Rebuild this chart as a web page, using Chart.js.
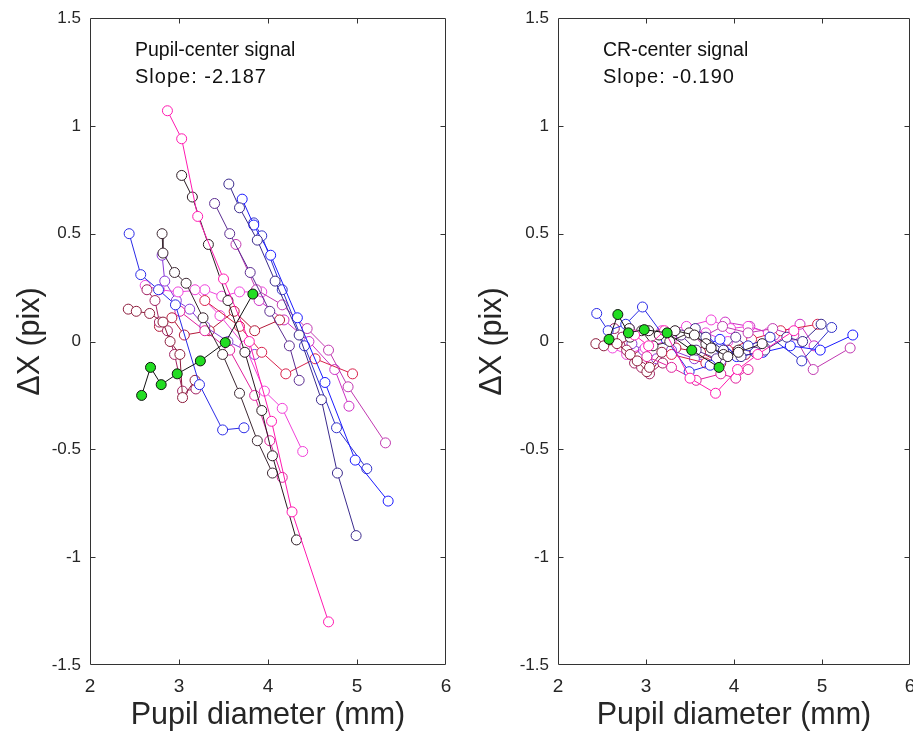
<!DOCTYPE html>
<html><head><meta charset="utf-8">
<script src="https://cdn.jsdelivr.net/npm/chart.js@4"></script>
<style>
html,body{margin:0;padding:0;background:#fff;overflow:hidden;width:913px;height:731px;}
canvas{position:absolute;top:0;}
</style></head><body>
<canvas id="c1" width="456" height="731" style="left:0;width:456px;height:731px"></canvas>
<canvas id="c2" width="460" height="731" style="left:456px;width:460px;height:731px"></canvas>
<script>
// ---- data (pupil diameter in mm, ΔX in pix) ----
const diamG = [2.58,2.68,2.80,2.98,3.24,3.52,3.83];
const pupilG = [-0.25,-0.12,-0.20,-0.15,-0.09,-0.005,0.22];
const crG = [0.01,0.125,0.04,0.055,0.04,-0.04,-0.12];

const diam01 = [2.87,3.03,3.21,3.50,3.79,4.04,4.27,4.68];
const pupil01 = [1.07,0.94,0.58,0.29,0.00,-0.37,-0.79,-1.30];
const cr01 = [0.03,-0.02,0.05,-0.17,-0.24,-0.13,-0.06,0.05];

const diam02 = [3.03,3.15,3.33,3.55,3.74,3.93,4.05,4.32];
const pupil02 = [0.77,0.67,0.45,0.19,-0.05,-0.32,-0.53,-0.92];
const cr02 = [0.05,0.03,0.05,0.03,-0.03,-0.07,-0.05,-0.01];

const diam03 = [2.81,2.82,2.95,3.08,3.27,3.49,3.68,3.88,4.05];
const pupil03 = [0.50,0.41,0.32,0.27,0.11,-0.06,-0.24,-0.46,-0.61];
const cr03 = [0.06,0.02,0.05,-0.02,0.00,0.04,-0.01,-0.06,-0.04];

const diam04 = [3.56,3.68,3.88,4.08,4.35,4.60,4.78,4.99];
const pupil04 = [0.73,0.62,0.47,0.28,0.03,-0.27,-0.61,-0.90];
const cr04 = [0.06,0.02,-0.04,-0.07,-0.04,0.02,0.00,0.08];

const diam05 = [3.71,3.84,4.03,4.33,4.64,4.98,5.35];
const pupil05 = [0.66,0.54,0.40,0.11,-0.19,-0.55,-0.74];
const cr05 = [-0.01,0.01,-0.07,-0.05,-0.02,-0.04,0.03];

const diam06 = [3.84,3.93,4.16,4.41,4.77,5.11];
const pupil06 = [0.55,0.49,0.24,-0.02,-0.40,-0.59];
const cr06 = [-0.03,-0.06,-0.02,0.02,-0.09,0.065];

const diam07 = [2.44,2.57,2.77,2.96,3.23,3.49,3.73];
const pupil07 = [0.50,0.31,0.24,0.17,-0.20,-0.41,-0.40];
const cr07 = [0.13,0.05,0.08,0.16,0.01,-0.14,-0.11];

const diam08 = [3.40,3.57,3.80,4.02,4.24,4.35];
const pupil08 = [0.64,0.50,0.32,0.14,-0.02,-0.18];
const cr08 = [0.03,-0.04,-0.08,0.02,-0.05,-0.03];

const diam09 = [3.64,3.87,4.16,4.44,4.68,4.90,5.32];
const pupil09 = [0.45,0.24,0.17,0.06,-0.04,-0.21,-0.47];
const cr09 = [0.02,0.07,0.04,0.06,0.03,-0.13,-0.03];

const diam10 = [3.29,3.68,3.93,4.20,4.53,4.95];
const pupil10 = [0.19,0.07,-0.05,-0.15,-0.08,-0.15];
const cr10 = [-0.06,-0.10,-0.04,0.01,0.05,0.08];

const diam11 = [3.18,3.46,3.74,3.96,4.16,4.39];
const pupil11 = [0.24,0.12,-0.02,-0.23,-0.31,-0.51];
const cr11 = [0.05,0.07,0.10,0.06,0.07,0.04];

const diam12 = [3.01,3.29,3.57,3.85,4.02,4.16];
const pupil12 = [0.14,0.05,-0.04,-0.25,-0.46,-0.63];
const cr12 = [-0.07,-0.12,-0.18,-0.15,-0.17,-0.13];

const diam13 = [2.43,2.52,2.67,2.82,2.90,3.01,3.04,3.18];
const pupil13 = [0.15,0.14,0.13,0.09,0.00,-0.06,-0.26,-0.18];
const cr13 = [-0.01,-0.02,-0.01,-0.06,-0.09,-0.14,-0.12,-0.05];

const diam14 = [2.64,2.73,2.78,2.87,2.95,3.04,3.19];
const pupil14 = [0.24,0.19,0.09,0.05,-0.06,-0.23,-0.22];
const cr14 = [0.06,0.02,-0.04,-0.10,-0.12,-0.15,-0.10];

const diam15 = [2.62,2.78,2.99,3.29,3.48,3.68,3.93];
const pupil15 = [0.26,0.24,0.23,0.24,0.21,0.23,0.23];
const cr15 = [-0.03,-0.06,-0.03,0.01,0.06,0.04,0.00];

const diam16 = [2.81,2.84,2.97,3.12,3.29,3.55,3.85];
const pupil16 = [0.40,0.28,0.19,0.15,0.07,0.00,-0.06];
const cr16 = [0.06,-0.01,-0.04,-0.08,-0.04,-0.08,-0.09];

const diam17 = [2.78,2.92,3.06,3.34,3.62,3.85,4.13];
const pupil17 = [0.07,0.11,0.03,0.05,0.14,0.05,0.10];
const cr17 = [-0.02,-0.07,-0.10,-0.03,-0.05,-0.10,-0.06];

const diam18 = [3.90,4.18,4.46,4.75,4.91];
const pupil18 = [0.19,0.10,0.00,-0.13,-0.30];
const cr18 = [0.09,0.07,0.03,0.08,-0.02];

const xTicks = [2,3,4,5,6];
const yTicks = [-1.5,-1,-0.5,0,0.5,1,1.5];
const leftNote = ['Pupil-center signal','Slope: -2.187'];
const rightNote = ['CR-center signal','Slope: -0.190'];
const xTitle = 'Pupil diameter (mm)';
const yTitle = 'ΔX (pix)';

// ---- styling (kept separate from data) ----
const series = [
  {x:diamG, pc:pupilG, cr:crG},
  {x:diam01, pc:pupil01, cr:cr01},
  {x:diam02, pc:pupil02, cr:cr02},
  {x:diam03, pc:pupil03, cr:cr03},
  {x:diam04, pc:pupil04, cr:cr04},
  {x:diam05, pc:pupil05, cr:cr05},
  {x:diam06, pc:pupil06, cr:cr06},
  {x:diam07, pc:pupil07, cr:cr07},
  {x:diam08, pc:pupil08, cr:cr08},
  {x:diam09, pc:pupil09, cr:cr09},
  {x:diam10, pc:pupil10, cr:cr10},
  {x:diam11, pc:pupil11, cr:cr11},
  {x:diam12, pc:pupil12, cr:cr12},
  {x:diam13, pc:pupil13, cr:cr13},
  {x:diam14, pc:pupil14, cr:cr14},
  {x:diam15, pc:pupil15, cr:cr15},
  {x:diam16, pc:pupil16, cr:cr16},
  {x:diam17, pc:pupil17, cr:cr17},
  {x:diam18, pc:pupil18, cr:cr18}
];
const lineColors = ['#111111','#ff1ab0','#2a1a22','#3c2832','#3a2a8c','#1a1aff','#3030c8','#2a2ae6','#5a2c90',
  '#c038b0','#d8204a','#f040d8','#e0209c','#8c1c3c','#a02060','#ee44dd','#8838d8','#b41838','#cc30c4'];
const fillColors = ['#22dd22'];

const FONT = "'Liberation Sans', Helvetica, Arial, sans-serif";
const AXIS = '#333333';
const TXT = '#262626';

const boxPlugin = {
  id:'boxTicks',
  afterDatasetsDraw(chart){
    const {ctx, chartArea:a, scales:{x,y}} = chart;
    ctx.save();
    ctx.strokeStyle = AXIS; ctx.lineWidth = 1;
    const L = Math.round(a.left)+0.5, R = Math.round(a.right)-0.5, T = Math.round(a.top)+0.5, B = Math.round(a.bottom)-0.5;
    ctx.beginPath();
    ctx.rect(L, T, R-L, B-T);
    const tl = 5;
    xTicks.forEach(v=>{ const p = Math.round(x.getPixelForValue(v))+0.5; if(p>L+1&&p<R-1){ctx.moveTo(p,B);ctx.lineTo(p,B-tl);ctx.moveTo(p,T);ctx.lineTo(p,T+tl);} });
    yTicks.forEach(v=>{ const p = Math.round(y.getPixelForValue(v))+0.5; if(p>T+1&&p<B-1){ctx.moveTo(L,p);ctx.lineTo(L+tl,p);ctx.moveTo(R,p);ctx.lineTo(R-tl,p);} });
    ctx.stroke();
    const note = chart.options.plugins.boxTicks.note;
    ctx.fillStyle = '#111'; ctx.textBaseline='alphabetic'; ctx.textAlign='left';
    ctx.font = '19.5px '+FONT;
    ctx.fillText(note[0], a.left+45, a.top+38);
    ctx.font = '20px '+FONT;
    try { ctx.letterSpacing = '1px'; } catch(e) {}
    ctx.fillText(note[1], a.left+45, a.top+65);
    ctx.restore();
  }
};

function makeChart(id, key, yAxisWidth, padRight, titlePad, note){
  const datasets = series.map((s,i)=>({
    data: s.x.map((v,j)=>({x:v, y:s[key][j]})),
    showLine:true,
    borderColor: lineColors[i],
    borderWidth: 1,
    pointRadius: 5,
    pointBorderWidth: 1,
    pointBorderColor: lineColors[i],
    pointBackgroundColor: fillColors[i] || '#ffffff',
    backgroundColor: fillColors[i] || '#ffffff',
    tension: 0,
    fill: false
  }));
  return new Chart(document.getElementById(id), {
    type:'scatter',
    data:{datasets},
    options:{
      responsive:false, animation:false, devicePixelRatio:1, events:[],
      layout:{padding:{left:0, right:padRight, top:18, bottom:0}},
      plugins:{legend:{display:false}, tooltip:{enabled:false}, boxTicks:{note}},
      scales:{
        x:{type:'linear', min:2, max:6,
           afterBuildTicks(s){ s.ticks = xTicks.map(v=>({value:v})); },
           afterFit(s){ s.height = 66; s.paddingLeft = 0; s.paddingRight = 0; },
           grid:{display:false, drawTicks:false}, border:{display:false},
           ticks:{padding:10, color:TXT, font:{family:FONT, size:19}, maxRotation:0, autoSkip:false,
                  callback:v=>String(v)},
           title:{display:true, text:xTitle, color:TXT, font:{family:FONT, size:30.5, lineHeight:1}, padding:{top:0,bottom:0}}
        },
        y:{type:'linear', min:-1.5, max:1.5,
           afterBuildTicks(s){ s.ticks = yTicks.map(v=>({value:v})); },
           afterFit(s){ s.width = yAxisWidth; s.paddingTop = 0; s.paddingBottom = 0; },
           grid:{display:false, drawTicks:false}, border:{display:false},
           ticks:{padding:9, color:TXT, font:{family:FONT, size:17}, autoSkip:false,
                  callback:v=>String(v)},
           title:{display:true, text:yTitle, color:TXT, font:{family:FONT, size:30.5, lineHeight:1}, padding:{top:titlePad,bottom:0}}
        }
      }
    },
    plugins:[boxPlugin]
  });
}
makeChart('c1','pc',90,10,15,leftNote);
makeChart('c2','cr',102,3.5,21,rightNote);
</script>
</body></html>
